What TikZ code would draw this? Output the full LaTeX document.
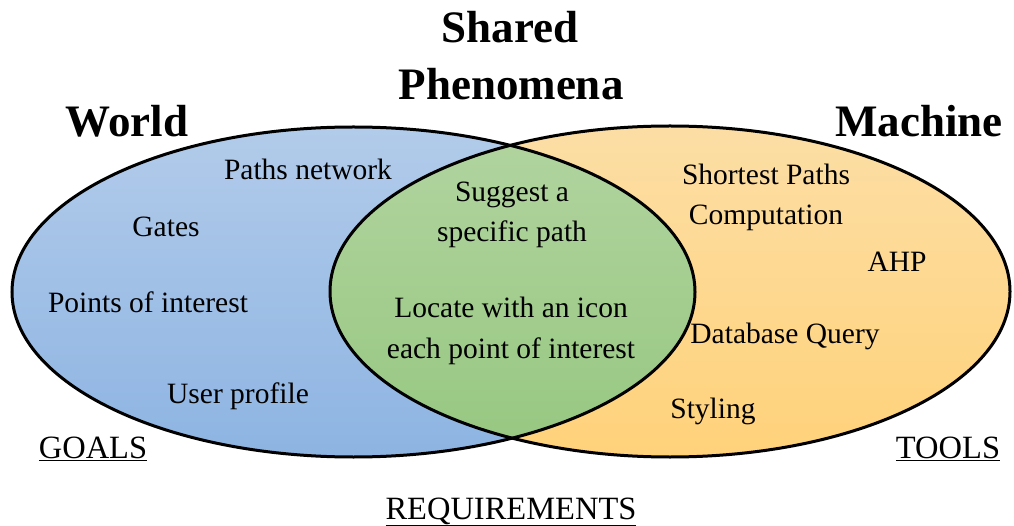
\documentclass[tikz,border=0pt]{standalone}
\usepackage{fontspec}
\setmainfont{Liberation Serif}
\definecolor{worldtop}{RGB}{178,203,234}
\definecolor{worldbot}{RGB}{141,180,226}
\definecolor{machtop}{RGB}{252,222,165}
\definecolor{machbot}{RGB}{255,210,122}
\definecolor{sharedtop}{RGB}{178,212,160}
\definecolor{sharedbot}{RGB}{150,199,128}
\tikzset{
  heading/.style={font=\fontsize{45}{50}\selectfont\bfseries, anchor=base, inner sep=0pt},
  item/.style={font=\fontsize{29.5}{40}\selectfont, anchor=base, inner sep=0pt, align=center},
  label/.style={font=\fontsize{32.5}{36}\selectfont, anchor=base, inner sep=0pt},
  outline/.style={line width=3pt, draw=black}
}
\begin{document}
\begin{tikzpicture}[x=1pt,y=-1pt]
\useasboundingbox (0,0) rectangle (1014,526);
% the two sets
\coordinate (wc) at (353.5,292);
\coordinate (mc) at (670,291.5);
\fill[top color=worldtop, bottom color=worldbot] (wc) ellipse [x radius=341.5, y radius=165];
\fill[top color=machtop, bottom color=machbot] (mc) ellipse [x radius=340, y radius=165.5];
% their overlap
\begin{scope}
  \clip (wc) ellipse [x radius=341.5, y radius=165];
  \fill[top color=sharedtop, bottom color=sharedbot] (mc) ellipse [x radius=340, y radius=165.5];
\end{scope}
\draw[outline] (wc) ellipse [x radius=341.5, y radius=165];
\draw[outline] (mc) ellipse [x radius=340, y radius=165.5];
% headings
\node[heading] (shared) at (510,43) {Shared};
\node[heading] (phen) at (511,100) {Phenomena};
\node[heading] (world) at (127,137) {World};
\node[heading] (machine) at (919,137) {Machine};
% world domain
\node[item] (paths) at (308,180) {Paths network};
\node[item] (gates) at (166,237) {Gates};
\node[item] (poi) at (148,313) {Points of interest};
\node[item] (user) at (238,403) {User profile};
% shared phenomena (base anchor sits on the last line)
\node[item] (suggest) at (512,242) {Suggest a\\specific path};
\node[item] (locate) at (511,358) {Locate with an icon\\each point of interest};
% machine domain
\node[item] (shortest) at (766,225) {Shortest Paths\\Computation};
\node[item] (ahp) at (897,272) {AHP};
\node[item] (db) at (785,343) {Database Query};
\node[item] (styling) at (713,418) {Styling};
% captions
\node[label] (goals) at (93,458) {\underline{GOALS}};
\node[label] (tools) at (948,458) {\underline{TOOLS}};
\node[label] (req) at (511,519) {\underline{REQUIREMENTS}};
\end{tikzpicture}
\end{document}
